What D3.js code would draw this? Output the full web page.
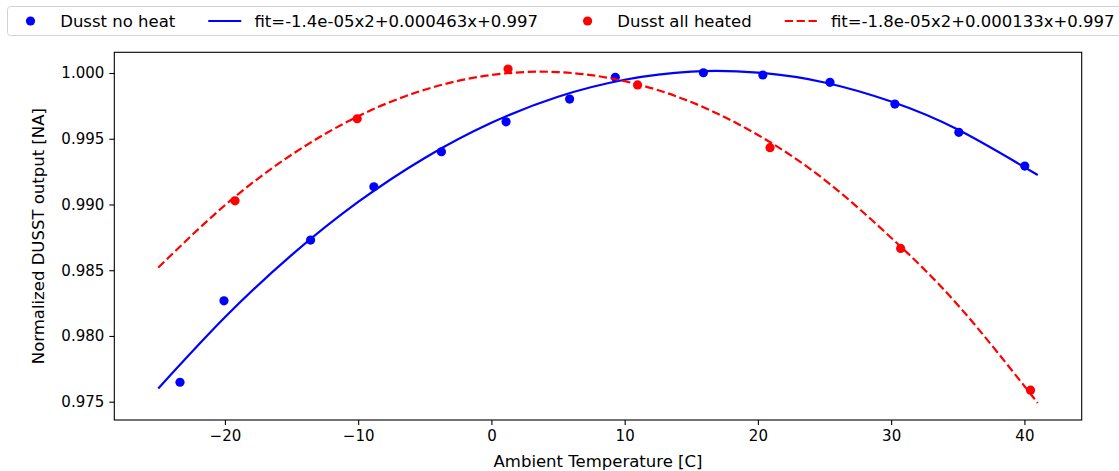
<!DOCTYPE html>
<html>
<head>
<meta charset="utf-8">
<script src="https://cdn.jsdelivr.net/npm/d3@7"></script>
<style>
  body { margin: 0; background: #fff; }
  text { font-family: "DejaVu Sans", sans-serif; }
</style>
</head>
<body>
<div class="chart"></div>
<script>
// measured points
var noHeatTemp = [-23.37, -20.07, -13.57, -8.82, -3.75, 1.10, 5.87, 9.30, 15.91, 20.37, 25.41, 30.28, 35.08, 40.03];
var noHeatVal  = [0.97648, 0.98267, 0.98729, 0.99135, 0.99401, 0.99629, 0.99802, 0.99967, 1.00002, 0.99985, 0.99929, 0.99764, 0.99549, 0.99292];
var heatedTemp = [-19.24, -10.07, 1.25, 10.97, 20.91, 30.71, 40.46];
var heatedVal  = [0.99028, 0.99652, 1.0003, 0.99909, 0.99432, 0.98666, 0.97588];

// fit curves
var fitTemp      = [-25, -20, -15, -10, -5, 0, 5, 10, 15, 20, 25, 30, 35, 41];
var fitNoHeat    = [0.97601, 0.98142, 0.98615, 0.99019, 0.99354, 0.99621, 0.99820, 0.99949, 1.00011, 1.00003, 0.99928, 0.99783, 0.99570, 0.99224];
var fitHeated    = [0.98520, 0.98994, 0.99378, 0.99671, 0.99873, 0.99985, 1.00007, 0.99938, 0.99779, 0.99529, 0.99188, 0.98747, 0.98236, 0.97490];

var xTicks = [-20, -10, 0, 10, 20, 30, 40];
var yTicks = [0.975, 0.980, 0.985, 0.990, 0.995, 1.000];

var legendLabels = ['Dusst no heat', 'fit=-1.4e-05x2+0.000463x+0.997', 'Dusst all heated', 'fit=-1.8e-05x2+0.000133x+0.997'];

var W = 1119, H = 471;
var box = { left: 114.3, right: 1081.7, top: 52.3, bottom: 420 };
var labelSize = 16.5;

var svg = d3.select('.chart')
  .append('svg')
    .attr('width', W)
    .attr('height', H);

var x = d3.scaleLinear().domain([-28.3, 44.3]).range([box.left, box.right]);
var y = d3.scaleLinear().domain([0.973608, 1.001575]).range([box.bottom, box.top]);

// axes
var xAxis = svg.append('g')
  .attr('transform', `translate(0, ${box.bottom})`)
  .call(d3.axisBottom(x).tickValues(xTicks).tickFormat(d3.format('d')).tickSize(5).tickPadding(5.5));
var yAxis = svg.append('g')
  .attr('transform', `translate(${box.left}, 0)`)
  .call(d3.axisLeft(y).tickValues(yTicks).tickFormat(d3.format('.3f')).tickSize(5).tickPadding(5));

[xAxis, yAxis].forEach(function(a) {
  a.select('.domain').remove();
  a.selectAll('line').attr('stroke', '#000').attr('stroke-width', 1.1);
  a.selectAll('text').attr('font-size', 15).attr('fill', '#000')
    .attr('font-family', '"DejaVu Sans", sans-serif');
});

svg.append('text')
  .attr('x', (box.left + box.right) / 2)
  .attr('y', 467)
  .attr('text-anchor', 'middle')
  .attr('font-size', labelSize)
  .text('Ambient Temperature [C]');

svg.append('text')
  .attr('transform', `translate(44, ${(box.top + box.bottom) / 2}) rotate(-90)`)
  .attr('text-anchor', 'middle')
  .attr('font-size', labelSize)
  .text('Normalized DUSST output [NA]');

var line = d3.line()
  .x(d => x(d[0]))
  .y(d => y(d[1]))
  .curve(d3.curveNatural);

function dots(temps, vals, color) {
  svg.append('g')
    .selectAll('circle')
    .data(d3.zip(temps, vals))
    .enter()
    .append('circle')
      .attr('cx', d => x(d[0]))
      .attr('cy', d => y(d[1]))
      .attr('r', 4.6)
      .attr('fill', color);
}

dots(noHeatTemp, noHeatVal, '#0000ff');
svg.append('path')
  .datum(d3.zip(fitTemp, fitNoHeat))
  .attr('d', line)
  .attr('fill', 'none')
  .attr('stroke', '#0000ff')
  .attr('stroke-width', 2.2);

dots(heatedTemp, heatedVal, '#ff0000');
svg.append('path')
  .datum(d3.zip(fitTemp, fitHeated))
  .attr('d', line)
  .attr('fill', 'none')
  .attr('stroke', '#ff0000')
  .attr('stroke-width', 2.2)
  .attr('stroke-dasharray', '8.3,3.6');

// frame
svg.append('rect')
  .attr('x', box.left)
  .attr('y', box.top)
  .attr('width', box.right - box.left)
  .attr('height', box.bottom - box.top)
  .attr('fill', 'none')
  .attr('stroke', '#000')
  .attr('stroke-width', 1.1);

// legend, laid out like matplotlib: handle 2em, pad 0.8em, column gap 2em
var legend = svg.append('g');
legend.append('rect')
  .attr('x', 7.5).attr('y', 6.5)
  .attr('width', 1140).attr('height', 29)
  .attr('rx', 3)
  .attr('fill', '#fff').attr('fill-opacity', 0.8)
  .attr('stroke', '#d3d3d3');

var ly = 21, handleLen = 2 * labelSize, textPad = 0.8 * labelSize, colGap = 2 * labelSize;
var items = [
  { type: 'dot', color: '#0000ff' },
  { type: 'line', color: '#0000ff' },
  { type: 'dot', color: '#ff0000' },
  { type: 'dash', color: '#ff0000' }
];
var cx = 14;
items.forEach(function(it, i) {
  if (it.type === 'dot') {
    legend.append('circle').attr('cx', cx + handleLen / 2).attr('cy', ly).attr('r', 4.6).attr('fill', it.color);
  } else {
    legend.append('line').attr('x1', cx).attr('x2', cx + handleLen).attr('y1', ly).attr('y2', ly)
      .attr('stroke', it.color).attr('stroke-width', 2.2)
      .attr('stroke-dasharray', it.type === 'dash' ? '8.3,3.6' : null);
  }
  var t = legend.append('text')
    .attr('x', cx + handleLen + textPad)
    .attr('y', ly + 6)
    .attr('font-size', labelSize)
    .text(legendLabels[i]);
  cx = cx + handleLen + textPad + t.node().getComputedTextLength() + colGap;
});
</script>
</body>
</html>
